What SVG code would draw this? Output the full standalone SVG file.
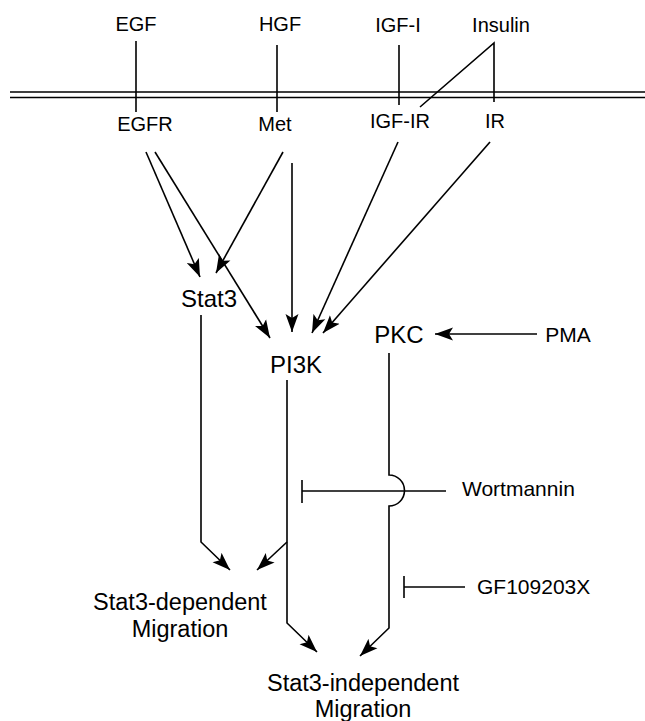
<svg xmlns="http://www.w3.org/2000/svg" width="645" height="721" viewBox="0 0 645 721">
<style>
text{font-family:"Liberation Sans",Arial,sans-serif;fill:#000;text-anchor:middle}
.s{font-size:20px}
.n{font-size:24px}
.b{font-size:23.5px}
.m{font-size:21px}
.l{fill:none;stroke:#000;stroke-width:1.6}
.a{fill:none;stroke:#000;stroke-width:1.6;marker-end:url(#ah)}
</style>
<defs>
<marker id="ah" markerUnits="userSpaceOnUse" markerWidth="20" markerHeight="14" refX="18" refY="7" orient="auto">
<path d="M0,0.5 L18,7 L0,13.5 L4,7 Z" fill="#000"/>
</marker>
</defs>
<rect width="645" height="721" fill="#fff"/>
<g id="membrane">
<line class="l" x1="10" y1="92" x2="645" y2="92"/>
<line class="l" x1="10" y1="97.5" x2="645" y2="97.5"/>
</g>
<g id="EGF"><text class="s" x="136" y="31">EGF</text></g>
<g id="HGF"><text class="s" x="280" y="31">HGF</text></g>
<g id="IGF-I"><text class="s" x="398" y="32">IGF-I</text></g>
<g id="Insulin"><text class="s" x="501" y="32">Insulin</text></g>
<g id="EGFR"><text class="s" x="145" y="131">EGFR</text></g>
<g id="Met"><text class="s" x="275" y="131">Met</text></g>
<g id="IGF-IR"><text class="s" x="400" y="128">IGF-IR</text></g>
<g id="IR"><text class="s" x="495" y="128">IR</text></g>
<g id="Stat3"><text class="n" x="209" y="307">Stat3</text></g>
<g id="PI3K"><text class="n" x="296" y="373">PI3K</text></g>
<g id="PKC"><text class="n" x="399" y="343">PKC</text></g>
<g id="PMA"><text class="m" x="568" y="342">PMA</text></g>
<g id="Wortmannin"><text class="m" x="462" y="496" style="text-anchor:start">Wortmannin</text></g>
<g id="GF109203X"><text class="m" x="477" y="594" style="text-anchor:start">GF109203X</text></g>
<g id="Stat3-dependent"><text class="b" x="180" y="610">Stat3-dependent</text><text class="b" x="180" y="637">Migration</text></g>
<g id="Stat3-independent"><text class="b" x="363" y="691">Stat3-independent</text><text class="b" x="363" y="717">Migration</text></g>
<g id="connectors">
<line class="l" x1="136" y1="41" x2="136" y2="112"/>
<line class="l" x1="277" y1="45" x2="277" y2="112"/>
<line class="l" x1="399" y1="45" x2="399" y2="105"/>
<polyline class="l" points="420,107 494,43 494,102"/>
<line class="a" x1="146" y1="152" x2="200" y2="277"/>
<line class="a" x1="155" y1="152" x2="270" y2="338"/>
<line class="a" x1="283" y1="152" x2="216" y2="273"/>
<line class="a" x1="292" y1="163" x2="292" y2="332"/>
<line class="a" x1="398" y1="142" x2="312" y2="333"/>
<line class="a" x1="490" y1="142" x2="323" y2="333"/>
<line class="a" x1="537" y1="334" x2="435" y2="334"/>
<polyline class="a" points="201,315 201,542 230,570"/>
<line class="a" x1="287" y1="542" x2="257" y2="570"/>
<polyline class="a" points="287,380 287,623 317,652"/>
<path class="a" d="M389,353 V475 A15.5,15.5 0 0 1 389,506 V628 L360,656"/>
<line class="l" x1="302" y1="491" x2="446" y2="491"/>
<line class="l" x1="302" y1="480" x2="302" y2="503"/>
<line class="l" x1="404" y1="587" x2="465" y2="587"/>
<line class="l" x1="404" y1="576" x2="404" y2="598"/>
</g>
</svg>
